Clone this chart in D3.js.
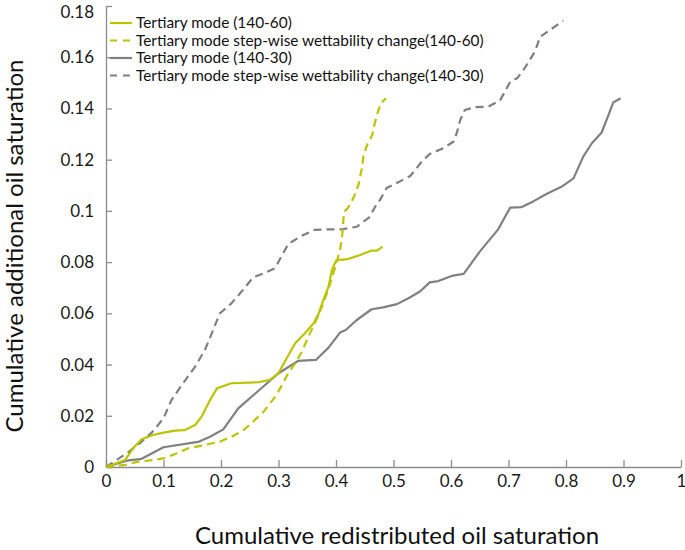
<!DOCTYPE html>
<html>
<head>
<meta charset="utf-8">
<script src="https://cdn.jsdelivr.net/npm/d3@7"></script>
<style>
  html, body { margin: 0; padding: 0; background: #fff; }
  svg { display: block; font-family: Lato, "Open Sans", sans-serif; }
</style>
</head>
<body>
<svg id="chart" width="685" height="550"></svg>
<script>
// ---- Data ----
const seriesNames = [
  "Tertiary mode (140-60)",
  "Tertiary mode step-wise wettability change(140-60)",
  "Tertiary mode (140-30)",
  "Tertiary mode step-wise wettability change(140-30)"
];

const tert6060X = [0,0.033,0.047,0.062,0.082,0.1,0.12,0.137,0.155,0.166,0.181,0.193,0.218,0.265,0.285,0.3,0.314,0.329,0.346,0.361,0.369,0.378,0.387,0.393,0.398,0.401,0.421,0.442,0.462,0.471,0.481];
const tert6060Y = [0,0.0027,0.0073,0.0108,0.0125,0.0134,0.0142,0.0144,0.0164,0.0196,0.0262,0.0307,0.0327,0.0331,0.034,0.0366,0.0424,0.0483,0.0522,0.0561,0.0594,0.0652,0.0704,0.0769,0.0795,0.0808,0.0812,0.0828,0.0845,0.0845,0.0860];

const step6060X = [0,0.033,0.056,0.082,0.1,0.12,0.143,0.172,0.198,0.221,0.239,0.253,0.274,0.294,0.305,0.317,0.329,0.340,0.352,0.363,0.372,0.381,0.390,0.398,0.407,0.411,0.414,0.421,0.430,0.439,0.445,0.448,0.454,0.463,0.466,0.472,0.478,0.487];
const step6060Y = [0,0.0008,0.0021,0.0027,0.0034,0.0051,0.0073,0.0086,0.0099,0.0121,0.0144,0.0171,0.0216,0.0274,0.0316,0.0366,0.0405,0.0447,0.0509,0.0561,0.0607,0.0659,0.0717,0.0776,0.0847,0.0911,0.0996,0.1012,0.1049,0.1101,0.1166,0.1218,0.1257,0.1296,0.1329,0.1381,0.1420,0.1440];

const tert3030X = [0,0.036,0.062,0.1,0.16,0.181,0.204,0.230,0.3,0.334,0.365,0.387,0.407,0.417,0.436,0.462,0.482,0.506,0.526,0.546,0.563,0.578,0.601,0.622,0.650,0.682,0.703,0.723,0.743,0.766,0.792,0.813,0.830,0.845,0.862,0.874,0.882,0.895];
const tert3030Y = [0,0.0025,0.0032,0.0077,0.0098,0.0118,0.0147,0.0229,0.0366,0.0414,0.0418,0.0466,0.0525,0.0535,0.0574,0.0616,0.0623,0.0636,0.0659,0.0685,0.0721,0.0726,0.0746,0.0754,0.0841,0.0928,0.1013,0.1015,0.1037,0.1066,0.1094,0.1127,0.1212,0.1264,0.1306,0.1375,0.1423,0.1440];

const step3030X = [0,0.02,0.04,0.06,0.08,0.1,0.114,0.134,0.155,0.172,0.184,0.198,0.218,0.238,0.256,0.274,0.294,0.305,0.317,0.343,0.363,0.386,0.410,0.436,0.459,0.468,0.4765,0.488,0.505,0.529,0.540,0.549,0.563,0.587,0.604,0.610,0.616,0.624,0.642,0.665,0.685,0.694,0.703,0.715,0.726,0.737,0.746,0.755,0.772,0.795];
const step3030Y = [0,0.003,0.006,0.0095,0.0135,0.019,0.0262,0.0327,0.0392,0.0457,0.0522,0.06,0.0639,0.0691,0.0741,0.0756,0.0776,0.0822,0.0871,0.0906,0.0926,0.0928,0.0928,0.0938,0.0977,0.1016,0.1043,0.1089,0.1108,0.1136,0.1166,0.1192,0.1222,0.1245,0.1270,0.1303,0.1355,0.1394,0.1405,0.1407,0.1431,0.1466,0.1505,0.1518,0.1550,0.1589,0.1622,0.1680,0.1706,0.1742];

const xTickValues = [0,0.1,0.2,0.3,0.4,0.5,0.6,0.7,0.8,0.9,1];
const xTickLabels = ["0","0.1","0.2","0.3","0.4","0.5","0.6","0.7","0.8","0.9","1"];
const yTickValues = [0,0.02,0.04,0.06,0.08,0.1,0.12,0.14,0.16,0.18];
const yTickLabels = ["0","0.02","0.04","0.06","0.08","0.1","0.12","0.14","0.16","0.18"];

const xTitle = "Cumulative redistributed oil saturation";
const yTitle = "Cumulative additional oil saturation";

// ---- Layout / style ----
const YELLOW = "#bcc400";
const GRAY = "#808080";
const AXIS = "#8c8c8c";
const styles = [
  {color: YELLOW, dash: null},
  {color: YELLOW, dash: "8,5"},
  {color: GRAY, dash: null},
  {color: GRAY, dash: "8,5"}
];
const margin = {left: 106, right: 4, top: 6, bottom: 83};
const W = 685, H = 550;

const svg = d3.select("#chart");
const x = d3.scaleLinear().domain([0, 1]).range([margin.left, W - margin.right]);
const y = d3.scaleLinear().domain([0, 0.18]).range([H - margin.bottom, margin.top]);

// axes
const xAxis = d3.axisBottom(x).tickValues(xTickValues)
  .tickFormat((d, i) => xTickLabels[i]).tickSizeInner(-7).tickSizeOuter(0).tickPadding(8);
const yAxis = d3.axisLeft(y).tickValues(yTickValues)
  .tickFormat((d, i) => yTickLabels[i]).tickSizeInner(-6).tickSizeOuter(0).tickPadding(12);

const gx = svg.append("g").attr("transform", `translate(0,${y(0)})`).call(xAxis);
const gy = svg.append("g").attr("transform", `translate(${x(0)},0)`).call(yAxis);
[gx, gy].forEach(g => {
  g.select(".domain").attr("stroke", AXIS).attr("stroke-width", 1.3);
  g.selectAll(".tick line").attr("stroke", AXIS).attr("stroke-width", 1.3);
  g.selectAll(".tick text").attr("fill", "#1a1a1a").style("font-size", "17px")
    .style("font-family", "Lato, 'Open Sans', sans-serif");
});
// keep the topmost y label inside the picture
gy.selectAll(".tick text").filter(d => d === 0.18).attr("dy", "0.7em");

// lines
const seriesX = [tert6060X, step6060X, tert3030X, step3030X];
const seriesY = [tert6060Y, step6060Y, tert3030Y, step3030Y];
const line = d3.line().x(d => x(d[0])).y(d => y(d[1]));
[3, 2, 1, 0].forEach(i => {
  const pts = seriesX[i].map((v, j) => [v, seriesY[i][j]]);
  svg.append("path").datum(pts)
    .attr("d", line)
    .attr("fill", "none")
    .attr("stroke", styles[i].color)
    .attr("stroke-width", 2.2)
    .attr("stroke-linejoin", "round")
    .attr("stroke-dasharray", styles[i].dash);
});

// legend
const legY0 = 23, legStep = 17.5;
seriesNames.forEach((name, i) => {
  const yy = legY0 + i * legStep;
  svg.append("line").attr("x1", 110).attr("x2", 132).attr("y1", yy).attr("y2", yy)
    .attr("stroke", styles[i].color).attr("stroke-width", 2.2)
    .attr("stroke-dasharray", styles[i].dash ? "7,6" : null);
  svg.append("text").attr("x", 136).attr("y", yy).attr("dy", "0.35em")
    .attr("fill", "#111").style("font-size", "15.4px").text(name);
});

// axis titles
svg.append("text").attr("x", 397).attr("y", 536).attr("dy", "0.35em")
  .attr("text-anchor", "middle").attr("fill", "#111").style("font-size", "24px").text(xTitle);
svg.append("text").attr("transform", `translate(15,246) rotate(-90)`).attr("dy", "0.35em")
  .attr("text-anchor", "middle").attr("fill", "#111").style("font-size", "24px").text(yTitle);
</script>
</body>
</html>
